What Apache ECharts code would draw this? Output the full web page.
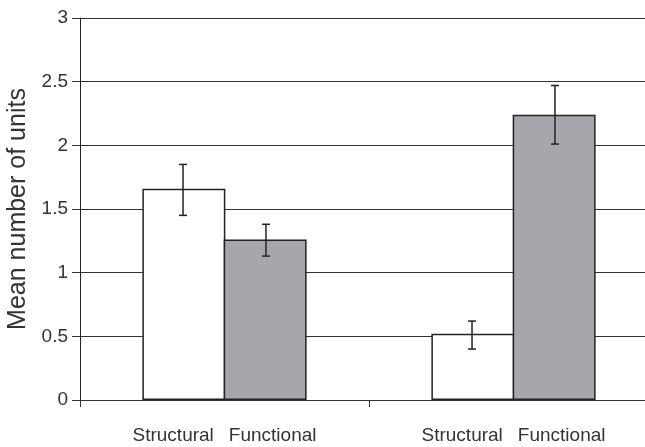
<!DOCTYPE html>
<html>
<head>
<meta charset="utf-8">
<script src="https://cdn.jsdelivr.net/npm/echarts@6/dist/echarts.min.js"></script>
<style>html,body{margin:0;padding:0;background:#fff}#c{width:645px;height:447px}</style>
</head>
<body>
<div id="c"></div>
<script>
const groups = ['Group A', 'Group B'];
const seriesNames = ['Structural', 'Functional'];
const structural = [1.66, 0.52];
const structuralLow = [1.45, 0.40];
const structuralHigh = [1.85, 0.62];
const functional = [1.26, 2.24];
const functionalLow = [1.13, 2.01];
const functionalHigh = [1.38, 2.47];
const yTicks = [0, 0.5, 1, 1.5, 2, 2.5, 3];

const BAR_FRAC = 0.287;
const FONT = 'Liberation Sans, Arial, sans-serif';

function errorSeries(low, high, side) {
  const data = low.map((l, i) => [i, l, high[i]]);
  return {
    type: 'custom',
    z: 5,
    data: data,
    renderItem: function (params, api) {
      const i = api.value(0);
      const bw = api.size([1, 0])[0];
      const off = side * bw * BAR_FRAC / 2;
      const pLow = api.coord([i, api.value(1)]);
      const pHigh = api.coord([i, api.value(2)]);
      const x = pLow[0] + off;
      const cap = 4;
      const st = { stroke: '#222', lineWidth: 1.5 };
      return {
        type: 'group',
        children: [
          { type: 'line', shape: { x1: x, y1: pLow[1], x2: x, y2: pHigh[1] }, style: st },
          { type: 'line', shape: { x1: x - cap, y1: pLow[1], x2: x + cap, y2: pLow[1] }, style: st },
          { type: 'line', shape: { x1: x - cap, y1: pHigh[1], x2: x + cap, y2: pHigh[1] }, style: st }
        ]
      };
    }
  };
}

const chart = echarts.init(document.getElementById('c'));
chart.setOption({
  animation: false,
  backgroundColor: '#fff',
  grid: { left: 80, top: 18, right: -13, bottom: 47, containLabel: false, outerBoundsMode: 'none' },
  xAxis: {
    type: 'category',
    data: groups,
    boundaryGap: true,
    axisLine: { lineStyle: { color: '#333', width: 1 } },
    axisTick: { show: true, length: 7, lineStyle: { color: '#333' } },
    axisLabel: {
      margin: 26,
      formatter: function () { return '{a|' + seriesNames[0] + '}{s|}{a|' + seriesNames[1] + '}'; },
      rich: {
        a: { fontSize: 19, fontFamily: FONT, color: '#333' },
        s: { width: 15 }
      }
    }
  },
  yAxis: {
    type: 'value',
    min: yTicks[0],
    max: yTicks[yTicks.length - 1],
    interval: 0.5,
    name: 'Mean number of units',
    nameLocation: 'middle',
    nameGap: 42,
    nameTextStyle: { fontSize: 25, fontFamily: FONT, color: '#333' },
    axisLine: { show: true, lineStyle: { color: '#222', width: 1 } },
    axisTick: { show: true, length: 8, lineStyle: { color: '#333' } },
    axisLabel: { fontSize: 19, fontFamily: FONT, color: '#333', margin: 12 },
    splitLine: { show: true, lineStyle: { color: '#333', width: 1 } }
  },
  series: [
    {
      name: seriesNames[0], type: 'bar', data: structural,
      barWidth: (BAR_FRAC * 100) + '%', barGap: '-2%',
      itemStyle: { color: '#ffffff', borderColor: '#222', borderWidth: 1.5 }
    },
    {
      name: seriesNames[1], type: 'bar', data: functional,
      barWidth: (BAR_FRAC * 100) + '%', barGap: '-2%',
      itemStyle: { color: '#a6a7aa', borderColor: '#222', borderWidth: 1.5 }
    },
    errorSeries(structuralLow, structuralHigh, -1),
    errorSeries(functionalLow, functionalHigh, 1)
  ]
});
</script>
</body>
</html>
